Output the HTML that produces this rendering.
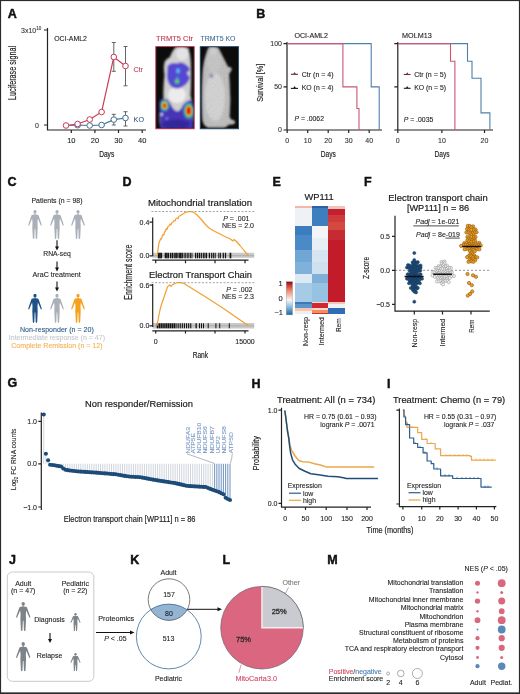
<!DOCTYPE html>
<html><head><meta charset="utf-8">
<style>
html,body{margin:0;padding:0;background:#fff;}
svg{display:block;font-family:"Liberation Sans",sans-serif;will-change:transform;}
.pl{font-weight:bold;font-size:12.5px;fill:#111;stroke:#111;stroke-width:0.45px;}
.t7{font-size:7px;fill:#333;}
.t6{font-size:6.5px;fill:#333;}
.ax{stroke:#222;stroke-width:1.2;fill:none;}
</style></head>
<body>
<svg width="520" height="694" viewBox="0 0 520 694">
<defs>
 <filter id="noise" x="0" y="0" width="100%" height="100%">
  <feTurbulence type="fractalNoise" baseFrequency="0.75" numOctaves="2" seed="4"/>
  <feColorMatrix type="matrix" values="0.33 0.33 0.33 0 0  0.33 0.33 0.33 0 0  0.33 0.33 0.33 0 0  0 0 0 0 1"/>
 </filter>
 <filter id="blur1" x="-10%" y="-10%" width="120%" height="120%"><feGaussianBlur stdDeviation="0.9"/></filter>
 <symbol id="person" viewBox="0 0 15 29.5" preserveAspectRatio="none">
  <ellipse cx="7.5" cy="2.05" rx="1.6" ry="1.95"/>
  <path d="M7,3.8 H8 V4.7 L10,5 Q10.9,5.2 11.2,6 L14,14.2 Q14.5,15.6 13.9,15.9 Q13.3,16.1 13,15 L10.4,8.8 L10,12.5 L10.2,17.5 L9.7,28.2 Q9.6,29.3 8.9,29.3 Q8.2,29.3 8.2,28.2 L7.8,19 H7.2 L6.8,28.2 Q6.8,29.3 6.1,29.3 Q5.4,29.3 5.3,28.2 L4.8,17.5 L5,12.5 L4.6,8.8 L2,15 Q1.7,16.1 1.1,15.9 Q0.5,15.6 1,14.2 L3.8,6 Q4.1,5.2 5,5 L7,4.7 Z"/>
 </symbol>
</defs>
<rect x="0.5" y="0.5" width="519" height="693" fill="#fff" stroke="#2a2a2a" stroke-width="1.2"/><rect x="0" y="692.4" width="520" height="1.6" fill="#2a2a2a"/>

<!-- ============ PANEL A ============ -->
<text class="pl" x="7.8" y="17.6">A</text>
<g id="panelA">
 <text x="21" y="33" style="font-size:7px;fill:#333;stroke:#333;stroke-width:0.1px">3x10<tspan dy="-3" style="font-size:4.5px">10</tspan></text>
 <text x="35" y="127.5" style="font-size:7px;fill:#333;stroke:#333;stroke-width:0.1px">0</text>
 <path class="ax" d="M47.5,28 V130 H146"/>
 <path class="ax" d="M44,30 H47.5 M44,125 H47.5 M71.3,130 V133 M94.9,130 V133 M118.5,130 V133 M142.2,130 V133"/>
 <g style="font-size:7.5px;fill:#222;stroke:#222;stroke-width:0.1px" text-anchor="middle">
  <text x="71.3" y="143.3">10</text><text x="94.9" y="143.3">20</text><text x="118.5" y="143.3">30</text><text x="142.2" y="143.3">40</text>
 </g>
 <text x="106.7" y="156.6" text-anchor="middle" style="font-size:9.5px;fill:#222;stroke:#222;stroke-width:0.18px" textLength="15" lengthAdjust="spacingAndGlyphs">Days</text>
 <text transform="translate(16.2,73) rotate(-90)" text-anchor="middle" style="font-size:10px;fill:#222;stroke:#222;stroke-width:0.18px" textLength="54" lengthAdjust="spacingAndGlyphs">Luciferase signal</text>
 <text x="54.2" y="40.6" style="font-size:6.7px;fill:#222;stroke:#222;stroke-width:0.1px" textLength="32.7" lengthAdjust="spacingAndGlyphs">OCI-AML2</text>
 <!-- error bars -->
 <g stroke="#555" stroke-width="0.9" fill="none">
  <path d="M113.8,42.5 V71.3 M111.8,42.5 H115.8 M111.8,71.3 H115.8"/>
  <path d="M125.5,46.5 V85.8 M123.5,46.5 H127.5 M123.5,85.8 H127.5"/>
  <path d="M113.8,114.3 V125 M111.8,114.3 H115.8 M111.8,125 H115.8"/>
  <path d="M125.5,111.7 V126 M123.5,111.7 H127.5 M123.5,126 H127.5"/>
 </g>
 <polyline points="66,125.5 77.6,125 89.7,125.5 101.6,125 113.8,119.6 125.5,118" fill="none" stroke="#3f6f95" stroke-width="1.2"/>
 <polyline points="66,125.5 77.6,124 89.7,119.5 101.6,112 113.8,57 125.5,66" fill="none" stroke="#cc3a58" stroke-width="1.2"/>
 <g fill="#fff" stroke="#3f6f95" stroke-width="1">
  <circle cx="77.6" cy="125.2" r="2.8"/><circle cx="89.7" cy="125.5" r="2.8"/><circle cx="101.6" cy="125" r="2.8"/><circle cx="113.8" cy="119.6" r="2.8"/><circle cx="125.5" cy="118" r="2.8"/>
 </g>
 <g fill="#fff" stroke="#cc3a58" stroke-width="1">
  <circle cx="66" cy="125.5" r="2.8"/><circle cx="77.6" cy="124" r="2.8"/><circle cx="89.7" cy="119.5" r="2.8"/><circle cx="101.6" cy="112" r="2.8"/><circle cx="113.8" cy="57" r="2.8"/><circle cx="125.5" cy="66" r="2.8"/>
 </g>
 <text x="133.4" y="71.9" style="font-size:7.2px;fill:#b8475e;stroke:#b8475e;stroke-width:0.1px">Ctr</text>
 <text x="133.6" y="122.4" style="font-size:7.2px;fill:#3d5f80;stroke:#3d5f80;stroke-width:0.1px">KO</text>
 <!-- mice -->
 <text x="156" y="40.5" style="font-size:6.6px;fill:#c23a55;stroke:#c23a55;stroke-width:0.1px" textLength="37" lengthAdjust="spacingAndGlyphs">TRMT5 Ctr</text>
 <text x="200.5" y="40.5" style="font-size:6.6px;fill:#3f6f95;stroke:#3f6f95;stroke-width:0.1px" textLength="35" lengthAdjust="spacingAndGlyphs">TRMT5 KO</text>
 <rect x="155.8" y="46.6" width="38.4" height="82.2" fill="#0c0c0c"/>
 <rect x="200.2" y="46.6" width="38.4" height="82.2" fill="#0c0c0c"/>
 <clipPath id="cpA1"><rect x="155.8" y="46.6" width="38.4" height="82.2"/></clipPath>
 <clipPath id="cpA2"><rect x="200.2" y="46.6" width="38.4" height="82.2"/></clipPath>
 <clipPath id="cpKO"><path d="M209,47 Q214,46 218.5,48 Q222,55 225.5,62 L228,67 Q232,66.5 231.5,70 Q230,72.5 229,74 L229.5,82 Q231,100 229.5,117 L231,119.5 Q235.5,120 235,123 Q233,125 229,124.5 Q227,127 223,127.5 L208,127.5 Q202.5,126 202.3,117 Q201.5,95 202.5,76 Q203,65 205,58 Q207,50 209,47 Z"/></clipPath>
 <g clip-path="url(#cpA2)" filter="url(#blur1)">
  <path d="M209,47 Q214,46 218.5,48 Q222,55 225.5,62 L228,67 Q232,66.5 231.5,70 Q230,72.5 229,74 L229.5,82 Q231,100 229.5,117 L231,119.5 Q235.5,120 235,123 Q233,125 229,124.5 Q227,127 223,127.5 L208,127.5 Q202.5,126 202.3,117 Q201.5,95 202.5,76 Q203,65 205,58 Q207,50 209,47 Z" fill="#bdbdbd"/>
  <ellipse cx="215" cy="97" rx="10" ry="24" fill="#d6d6d6"/>
  <ellipse cx="214" cy="62" rx="7" ry="11" fill="#c6c6c6"/>
  <ellipse cx="213.5" cy="51" rx="3.5" ry="4" fill="#d0d0d0"/>
  <circle cx="211.5" cy="76" r="1.8" fill="#4a6a9a"/>
 </g>
 <g clip-path="url(#cpKO)" opacity="0.22"><rect x="200" y="46" width="40" height="84" filter="url(#noise)"/></g>
 <g clip-path="url(#cpA1)">
  <g filter="url(#blur1)">
  <path d="M176,47 Q183,45.5 188.5,48 Q190.5,55 190.8,62 Q191.5,80 190.5,95 Q193,105 193.5,115 Q193.5,125 190,129 L162,129 Q159,125 159.5,115 Q160,105 163.5,98 Q163,88 164.5,75 Q163,66 165,61 Q168,58 170,57 Q172.5,50 176,47 Z" fill="#cfcfcf"/>
  <ellipse cx="182" cy="54" rx="6" ry="6.5" fill="#e4e4e4"/>
  <ellipse cx="177" cy="95" rx="9" ry="8" fill="#ececec"/>
  <path d="M167.5,66 Q171,62 177,63.5 Q181,61.5 185,64 Q189,66 190,70 L186.5,73 L190,77.5 Q188,84 182,87 Q177,90 172,87 Q167,83 167,76 Z" fill="#5646d2"/>
  <ellipse cx="178" cy="71" rx="1.7" ry="2.4" fill="#48c8f0"/>
  <ellipse cx="177.5" cy="78" rx="1" ry="1.5" fill="#6a9af0"/>
  <circle cx="177" cy="81.5" r="2.4" fill="#30c060"/>
  <circle cx="177" cy="81.5" r="1" fill="#a0f060"/>
  <path d="M159.5,101 Q163,97 168,100 Q171,104 172,107 Q175,111 177.5,111.5 Q181,110 183,105 Q186,101 191,100 L193,102 L193,129 L160.5,129 Q159,115 159.5,101 Z" fill="#4636b6"/>
  <ellipse cx="176" cy="124.5" rx="14" ry="5" fill="#35279a"/>
  <ellipse cx="164.6" cy="105.4" rx="4.6" ry="6" fill="#2a8ad0"/>
  <ellipse cx="164.6" cy="105.4" rx="3.5" ry="4.6" fill="#3cc050"/>
  <ellipse cx="164.6" cy="105.4" rx="2.6" ry="3.4" fill="#f0d020"/>
  <ellipse cx="164.6" cy="105.4" rx="1.9" ry="2.5" fill="#e01010"/>
  <ellipse cx="188.8" cy="110.8" rx="5.4" ry="8.3" fill="#2a90d0"/>
  <ellipse cx="188.8" cy="110.8" rx="4.3" ry="6.7" fill="#3cc050"/>
  <ellipse cx="188.8" cy="110.8" rx="3.3" ry="5.3" fill="#f0d020"/>
  <ellipse cx="188.8" cy="110.8" rx="2.5" ry="4.2" fill="#e01010"/>
  <circle cx="161.5" cy="114.5" r="1.4" fill="#d8d8f0"/>
  <circle cx="167" cy="118.5" r="1.1" fill="#7aa0f0"/>
  </g>
 </g>
 <rect x="155.8" y="46.6" width="38.4" height="82.2" fill="none" stroke="#c23a55" stroke-width="0.9"/>
 <rect x="200.2" y="46.6" width="38.4" height="82.2" fill="none" stroke="#2f4f6f" stroke-width="0.9"/>
</g>

<!-- ============ PANEL B ============ -->
<text class="pl" x="256.2" y="17.7">B</text>
<g id="panelB">
 <text transform="translate(263.1,82.8) rotate(-90)" text-anchor="middle" style="font-size:9.7px;fill:#222;stroke:#222;stroke-width:0.18px" textLength="38" lengthAdjust="spacingAndGlyphs">Survival [%]</text>
 <g style="font-size:7px;fill:#333;stroke:#333;stroke-width:0.1px" text-anchor="end">
  <text x="282" y="46">100</text><text x="282" y="89.3">50</text><text x="282" y="132.4">0</text>
 </g>
 <path class="ax" d="M287,42 V130 H382 M283.5,43.6 H287 M283.5,86.9 H287 M283.5,130 H287"/>
 <path class="ax" d="M287.2,130 V133 M307.7,130 V133 M328.2,130 V133 M348.7,130 V133 M369.2,130 V133"/>
 <g style="font-size:7px;fill:#333;stroke:#333;stroke-width:0.1px" text-anchor="middle">
  <text x="287.2" y="142.5">0</text><text x="307.7" y="142.5">10</text><text x="328.2" y="142.5">20</text><text x="348.7" y="142.5">30</text><text x="369.2" y="142.5">40</text>
 </g>
 <text x="328.3" y="156.9" text-anchor="middle" style="font-size:9.5px;fill:#222;stroke:#222;stroke-width:0.18px" textLength="15" lengthAdjust="spacingAndGlyphs">Days</text>
 <text x="294.4" y="37.6" style="font-size:7px;fill:#222;stroke:#222;stroke-width:0.1px" textLength="33.6" lengthAdjust="spacingAndGlyphs">OCI-AML2</text>
 <polyline points="287.5,43.6 371.2,43.6 371.2,86.9 379.2,86.9 379.2,130" fill="none" stroke="#4f7fae" stroke-width="1.1"/>
 <polyline points="287.5,43.6 342.9,43.6 342.9,86.9 356.9,86.9 356.9,108.5 359,108.5 359,130" fill="none" stroke="#cf5470" stroke-width="1.1"/>
 <path d="M290.9,74.3 H298" stroke="#6a2a40" stroke-width="1.1"/><path d="M293.4,74 L294.6,72 L295.8,74 Z" fill="#6a2a40"/>
 <path d="M290.9,88.4 H298" stroke="#1a1a2a" stroke-width="1.1"/><path d="M293.4,88.1 L294.6,86.1 L295.8,88.1 Z" fill="#1a1a2a"/>
 <text x="301.8" y="76.6" style="font-size:7px;fill:#222;stroke:#222;stroke-width:0.1px" textLength="31.8" lengthAdjust="spacingAndGlyphs">Ctr (n = 4)</text>
 <text x="301.8" y="90.4" style="font-size:7px;fill:#222;stroke:#222;stroke-width:0.1px" textLength="31.8" lengthAdjust="spacingAndGlyphs">KO (n = 4)</text>
 <text x="294.4" y="121.3" style="font-size:7px;fill:#222;stroke:#222;stroke-width:0.1px" textLength="29.6" lengthAdjust="spacingAndGlyphs"><tspan font-style="italic">P</tspan> = .0062</text>

 <g style="font-size:7px;fill:#333;stroke:#333;stroke-width:0.1px" text-anchor="end"></g>
 <path class="ax" d="M397.8,42 V130 H493 M394.3,43.6 H397.8 M394.3,86.9 H397.8 M394.3,130 H397.8"/>
 <path class="ax" d="M397.8,130 V133 M441.9,130 V133 M484.5,130 V133"/>
 <g style="font-size:7px;fill:#333;stroke:#333;stroke-width:0.1px" text-anchor="middle">
  <text x="397.8" y="142.5">0</text><text x="441.9" y="142.5">10</text><text x="484.5" y="142.5">20</text>
 </g>
 <text x="442" y="156.9" text-anchor="middle" style="font-size:9.5px;fill:#222;stroke:#222;stroke-width:0.18px" textLength="15" lengthAdjust="spacingAndGlyphs">Days</text>
 <text x="402" y="37.8" style="font-size:7.1px;fill:#222;stroke:#222;stroke-width:0.1px" textLength="29.7" lengthAdjust="spacingAndGlyphs">MOLM13</text>
 <polyline points="398,43.6 467.5,43.6 467.5,61.2 472,61.2 472,78.2 481,78.2 481,112.9 489.9,112.9 489.9,130" fill="none" stroke="#4f7fae" stroke-width="1.1"/>
 <polyline points="398,43.6 450.5,43.6 450.5,61.2 454.9,61.2 454.9,130" fill="none" stroke="#cf5470" stroke-width="1.1"/>
 <path d="M403.8,74.5 H410.6" stroke="#6a2a40" stroke-width="1.1"/><path d="M406,74.2 L407.2,72.2 L408.4,74.2 Z" fill="#6a2a40"/>
 <path d="M403.8,88.3 H410.6" stroke="#1a1a2a" stroke-width="1.1"/><path d="M406,88 L407.2,86 L408.4,88 Z" fill="#1a1a2a"/>
 <text x="414.2" y="76.6" style="font-size:7px;fill:#222;stroke:#222;stroke-width:0.1px" textLength="31.8" lengthAdjust="spacingAndGlyphs">Ctr (n = 5)</text>
 <text x="414.2" y="90.4" style="font-size:7px;fill:#222;stroke:#222;stroke-width:0.1px" textLength="31.8" lengthAdjust="spacingAndGlyphs">KO (n = 5)</text>
 <text x="403.7" y="122.2" style="font-size:7px;fill:#222;stroke:#222;stroke-width:0.1px" textLength="29.6" lengthAdjust="spacingAndGlyphs"><tspan font-style="italic">P</tspan> = .0035</text>
</g>

<!-- ============ PANEL C ============ -->
<text class="pl" x="7.5" y="186.4">C</text>
<g id="panelC">
 <text x="57" y="202.5" text-anchor="middle" style="font-size:7px;fill:#222;stroke:#222;stroke-width:0.1px" textLength="51" lengthAdjust="spacingAndGlyphs">Patients (n = 98)</text>
 <use href="#person" x="27.5" y="209.8" width="15" height="29.5" fill="#aab0b8"/>
 <use href="#person" x="49.5" y="209.8" width="15" height="29.5" fill="#aab0b8"/>
 <use href="#person" x="70.5" y="209.8" width="15" height="29.5" fill="#aab0b8"/>
 <g stroke="#111" stroke-width="1.1"><path d="M57,240.3 V247"/><path d="M57,261.5 V268"/><path d="M57,281.6 V288"/></g>
 <g fill="#111"><path d="M55,246.5 H59 L57,250.5 Z"/><path d="M55,267.5 H59 L57,271.5 Z"/><path d="M55,287.6 H59 L57,291.6 Z"/></g>
 <text x="57" y="256.3" text-anchor="middle" style="font-size:6.9px;fill:#222;stroke:#222;stroke-width:0.1px" textLength="27.5" lengthAdjust="spacingAndGlyphs">RNA-seq</text>
 <text x="56.7" y="276.8" text-anchor="middle" style="font-size:6.9px;fill:#222;stroke:#222;stroke-width:0.1px" textLength="48.2" lengthAdjust="spacingAndGlyphs">AraC treatment</text>
 <use href="#person" x="27.5" y="293.6" width="15" height="29.5" fill="#1d5286"/>
 <use href="#person" x="49.5" y="293.6" width="15" height="29.5" fill="#aab0b8"/>
 <use href="#person" x="70.5" y="293.6" width="15" height="29.5" fill="#f5a01e"/>
 <text x="56.9" y="331.8" text-anchor="middle" style="font-size:7px;fill:#2d5a88;stroke:#2d5a88;stroke-width:0.1px" textLength="73.8" lengthAdjust="spacingAndGlyphs">Non-responder (n = 20)</text>
 <text x="56.9" y="340.3" text-anchor="middle" style="font-size:7px;fill:#c4c8ce;stroke:#c4c8ce;stroke-width:0.1px" textLength="96.2" lengthAdjust="spacingAndGlyphs">Intermediate response (n = 47)</text>
 <text x="56.9" y="348.2" text-anchor="middle" style="font-size:7px;fill:#f4b050;stroke:#f4b050;stroke-width:0.1px" textLength="91.2" lengthAdjust="spacingAndGlyphs">Complete Remission (n = 12)</text>
</g>

<!-- ============ PANEL D ============ -->
<text class="pl" x="122.5" y="186.1">D</text>
<g id="panelD">
 <text x="200" y="206" text-anchor="middle" style="font-size:9.6px;fill:#1a1a1a;stroke:#1a1a1a;stroke-width:0.18px" textLength="104" lengthAdjust="spacingAndGlyphs">Mitochondrial translation</text>
 <text x="200.5" y="277.5" text-anchor="middle" style="font-size:9.6px;fill:#1a1a1a;stroke:#1a1a1a;stroke-width:0.18px" textLength="103" lengthAdjust="spacingAndGlyphs">Electron Transport Chain</text>
 <path d="M151.5,211.5 H255.4 M151.5,282.7 H255.4" stroke="#8a8a8a" stroke-width="0.8" stroke-dasharray="2,1.6"/>
 <rect x="152.7" y="252.7" width="101.5" height="5.1" fill="#c9c9c9"/>
 <rect x="152.7" y="323" width="101.5" height="5.5" fill="#c9c9c9"/>
 <path d="M152.7,255.7 H254.2 M152.7,325.8 H254.2" stroke="#9a9a9a" stroke-width="0.6"/>
 <g fill="#141414"><rect x="157.80" y="252.8" width="1.60" height="5.5"/><rect x="159.15" y="252.8" width="1.60" height="5.5"/><rect x="160.50" y="252.8" width="1.60" height="5.5"/><rect x="164.70" y="252.8" width="1.40" height="5.5"/><rect x="166.15" y="252.8" width="1.40" height="5.5"/><rect x="167.60" y="252.8" width="1.40" height="5.5"/><rect x="169.90" y="252.8" width="1.50" height="5.5"/><rect x="171.90" y="252.8" width="1.50" height="5.5"/><rect x="174.20" y="252.8" width="1.60" height="5.5"/><rect x="176.10" y="252.8" width="1.60" height="5.5"/><rect x="178.50" y="252.8" width="1.40" height="5.5"/><rect x="180.00" y="252.8" width="1.40" height="5.5"/><rect x="181.50" y="252.8" width="1.40" height="5.5"/><rect x="183.70" y="252.8" width="0.90" height="5.5"/><rect x="185.26" y="252.8" width="0.90" height="5.5"/><rect x="186.82" y="252.8" width="0.90" height="5.5"/><rect x="188.38" y="252.8" width="0.90" height="5.5"/><rect x="189.94" y="252.8" width="0.90" height="5.5"/><rect x="191.50" y="252.8" width="0.90" height="5.5"/><rect x="195.00" y="252.8" width="1.20" height="5.5"/><rect x="196.90" y="252.8" width="1.20" height="5.5"/><rect x="198.80" y="252.8" width="1.20" height="5.5"/><rect x="200.70" y="252.8" width="1.20" height="5.5"/><rect x="202.80" y="252.8" width="1.10" height="5.5"/><rect x="204.40" y="252.8" width="1.10" height="5.5"/><rect x="206.00" y="252.8" width="1.10" height="5.5"/><rect x="208.80" y="252.8" width="1.20" height="5.5"/><rect x="211.10" y="252.8" width="1.20" height="5.5"/><rect x="213.10" y="252.8" width="1.00" height="5.5"/><rect x="214.70" y="252.8" width="1.00" height="5.5"/><rect x="218.30" y="252.8" width="1.00" height="5.5"/><rect x="219.90" y="252.8" width="1.00" height="5.5"/><rect x="222.70" y="252.8" width="1.20" height="5.5"/><rect x="224.90" y="252.8" width="1.20" height="5.5"/><rect x="229.60" y="252.8" width="1.70" height="5.5"/></g>
 <g fill="#141414"><rect x="156.70" y="323.3" width="1.50" height="5.0"/><rect x="158.57" y="323.3" width="1.50" height="5.0"/><rect x="160.43" y="323.3" width="1.50" height="5.0"/><rect x="162.30" y="323.3" width="1.50" height="5.0"/><rect x="164.17" y="323.3" width="1.50" height="5.0"/><rect x="166.03" y="323.3" width="1.50" height="5.0"/><rect x="167.90" y="323.3" width="1.50" height="5.0"/><rect x="169.77" y="323.3" width="1.50" height="5.0"/><rect x="171.63" y="323.3" width="1.50" height="5.0"/><rect x="173.50" y="323.3" width="1.50" height="5.0"/><rect x="175.50" y="323.3" width="1.10" height="5.0"/><rect x="177.60" y="323.3" width="1.10" height="5.0"/><rect x="179.70" y="323.3" width="1.10" height="5.0"/><rect x="181.80" y="323.3" width="1.10" height="5.0"/><rect x="183.90" y="323.3" width="1.10" height="5.0"/><rect x="186.00" y="323.3" width="1.10" height="5.0"/><rect x="188.10" y="323.3" width="1.10" height="5.0"/><rect x="190.20" y="323.3" width="1.10" height="5.0"/><rect x="195.50" y="323.3" width="1.30" height="5.0"/><rect x="199.00" y="323.3" width="1.00" height="5.0"/><rect x="201.00" y="323.3" width="1.00" height="5.0"/><rect x="203.00" y="323.3" width="1.00" height="5.0"/><rect x="207.70" y="323.3" width="1.00" height="5.0"/><rect x="215.40" y="323.3" width="1.00" height="5.0"/><rect x="219.20" y="323.3" width="1.00" height="5.0"/><rect x="228.80" y="323.3" width="1.00" height="5.0"/></g>
 <path class="ax" d="M152.7,217.5 V256.3 M149.5,222.2 H152.7 M149.5,255.8 H152.7"/>
 <path class="ax" d="M152.7,284 V327 M152.3,330.8 H248.5 M149.5,285.2 H152.7 M149.5,325.8 H152.7"/>
 <path class="ax" d="M152.3,260.2 H248.5 M155.7,260.2 V263.3 M185.5,260.2 V263.3 M215,260.2 V263.3 M245,260.2 V263.3"/>
 <path class="ax" d="M155.7,330.8 V333.5 M185.5,330.8 V333.5 M215,330.8 V333.5 M245,330.8 V333.5"/>
 <g style="font-size:7px;fill:#222;stroke:#222;stroke-width:0.1px" text-anchor="end">
  <text x="149.3" y="224.6">0.4</text><text x="149.3" y="258.2">0.0</text>
  <text x="149.3" y="287.7">0.6</text><text x="149.3" y="328.3">0.0</text>
 </g>
 <g style="font-size:7px;fill:#222;stroke:#222;stroke-width:0.1px" text-anchor="middle"><text x="155.7" y="344">0</text><text x="245" y="344">15000</text></g>
 <text x="200.4" y="357.9" text-anchor="middle" style="font-size:9.3px;fill:#222;stroke:#222;stroke-width:0.18px" textLength="15.4" lengthAdjust="spacingAndGlyphs">Rank</text>
 <text transform="translate(132.3,272.2) rotate(-90)" text-anchor="middle" style="font-size:10px;fill:#222;stroke:#222;stroke-width:0.18px" textLength="55" lengthAdjust="spacingAndGlyphs">Enrichment score</text>
 <g style="font-size:7px;fill:#222;stroke:#222;stroke-width:0.1px" text-anchor="end">
  <text x="249.5" y="220.8"><tspan font-style="italic">P</tspan> = .001</text>
  <text x="254" y="228.3">NES = 2.0</text>
  <text x="252.5" y="291.8"><tspan font-style="italic">P</tspan> = .002</text>
  <text x="254" y="299.3">NES = 2.3</text>
 </g>
 <polyline points="157.3,255.7 158.2,248.0 159.0,243.0 160.0,240.5 160.8,238.5 161.5,239.0 162.2,236.0 163.0,234.5 163.8,235.0 164.5,232.0 165.5,231.0 166.3,228.5 167.0,229.3 168.0,226.5 169.0,226.0 170.0,224.0 171.0,224.8 172.0,222.5 173.0,222.0 174.0,220.5 175.0,221.0 176.0,218.5 177.0,218.0 178.0,218.6 179.0,216.3 180.5,215.5 182.0,214.5 183.5,213.8 185.0,212.6 186.5,212.2 188.5,211.6 191.0,211.6 193.0,212.0 196.0,214.0 200.0,218.0 205.0,224.0 209.0,228.0 214.0,231.0 220.0,234.0 226.0,237.0 230.0,238.8 233.0,241.0 234.0,239.5 236.0,241.0 240.0,245.5 244.0,250.5 248.5,255.7" fill="none" stroke="#f0a030" stroke-width="1.2" stroke-linejoin="round"/>
 <polyline points="157.0,325.8 158.0,320.0 159.0,315.0 160.0,310.0 161.0,306.0 162.0,303.0 163.0,300.0 164.0,297.5 165.0,294.0 166.0,291.0 167.0,288.5 167.7,286.5 168.5,286.0 169.5,285.0 170.3,285.5 171.0,286.5 172.0,285.0 173.0,284.5 174.0,284.0 175.0,283.5 176.0,283.0 177.0,282.7 180.0,282.7 182.7,282.8 186.0,284.8 190.0,287.2 196.0,290.9 205.0,296.6 215.0,302.9 225.0,309.5 235.0,316.5 242.0,321.3 248.5,325.8" fill="none" stroke="#f0a030" stroke-width="1.2" stroke-linejoin="round"/>
</g>

<!-- ============ PANEL E ============ -->
<text class="pl" x="272.6" y="186.4">E</text>
<g id="panelE">
 <text x="319.1" y="200.3" text-anchor="middle" style="font-size:9.3px;fill:#1a1a1a;stroke:#1a1a1a;stroke-width:0.18px" textLength="29.2" lengthAdjust="spacingAndGlyphs">WP111</text>
 <g shape-rendering="crispEdges"><rect x="295.2" y="206.0" width="16.5" height="1.6" fill="#f4b6a6"/><rect x="295.2" y="207.5" width="16.5" height="18.6" fill="#eef2f7"/><rect x="295.2" y="226.0" width="16.5" height="9.1" fill="#3b7cbf"/><rect x="295.2" y="235.0" width="16.5" height="15.1" fill="#4a8ac6"/><rect x="295.2" y="250.0" width="16.5" height="12.1" fill="#70a7d5"/><rect x="295.2" y="262.0" width="16.5" height="12.1" fill="#80b1da"/><rect x="295.2" y="274.0" width="16.5" height="9.1" fill="#dde9f4"/><rect x="295.2" y="283.0" width="16.5" height="18.7" fill="#a6cbe7"/><rect x="295.2" y="301.7" width="16.5" height="2.2" fill="#3a78b8"/><rect x="295.2" y="303.8" width="16.5" height="4.2" fill="#5a96cc"/><rect x="295.2" y="308.0" width="16.5" height="2.5" fill="#f8c6ae"/><rect x="295.2" y="310.5" width="16.5" height="1.6" fill="#f8eee8"/><rect x="295.2" y="312.0" width="16.5" height="2.4" fill="#eef0f8"/><rect x="311.6" y="206.0" width="16.4" height="2.0" fill="#2a63a8"/><rect x="311.6" y="208.0" width="16.4" height="18.1" fill="#3d7ebe"/><rect x="311.6" y="226.0" width="16.4" height="12.1" fill="#f3f5f8"/><rect x="311.6" y="238.0" width="16.4" height="12.1" fill="#e6eef6"/><rect x="311.6" y="250.0" width="16.4" height="12.1" fill="#d6e5f1"/><rect x="311.6" y="262.0" width="16.4" height="12.1" fill="#cfe0ef"/><rect x="311.6" y="274.0" width="16.4" height="9.1" fill="#80b0d8"/><rect x="311.6" y="283.0" width="16.4" height="18.7" fill="#96c3e2"/><rect x="311.6" y="301.7" width="16.4" height="1.4" fill="#f4dcd4"/><rect x="311.6" y="303.0" width="16.4" height="5.0" fill="#d02830"/><rect x="311.6" y="308.0" width="16.4" height="2.0" fill="#f8d8c8"/><rect x="311.6" y="310.0" width="16.4" height="2.5" fill="#f09060"/><rect x="311.6" y="312.5" width="16.4" height="1.9" fill="#d03030"/><rect x="328.0" y="206.0" width="16.6" height="2.6" fill="#f0c6bc"/><rect x="328.0" y="208.6" width="16.6" height="6.5" fill="#c42030"/><rect x="328.0" y="215.0" width="16.6" height="7.0" fill="#cf3a3a"/><rect x="328.0" y="222.0" width="16.6" height="8.1" fill="#d24a40"/><rect x="328.0" y="230.0" width="16.6" height="10.1" fill="#c62a32"/><rect x="328.0" y="240.0" width="16.6" height="61.7" fill="#c21c2b"/><rect x="328.0" y="301.7" width="16.6" height="2.4" fill="#f6c6b6"/><rect x="328.0" y="304.0" width="16.6" height="4.0" fill="#f2f3f6"/><rect x="328.0" y="308.0" width="16.6" height="6.4" fill="#2f6db5"/></g>
 <defs><linearGradient id="hmleg" x1="0" y1="0" x2="0" y2="1">
  <stop offset="0" stop-color="#7a0a12"/><stop offset="0.08" stop-color="#c0282e"/><stop offset="0.25" stop-color="#ee8060"/><stop offset="0.55" stop-color="#f7f7f7"/><stop offset="0.75" stop-color="#8cc0e0"/><stop offset="1" stop-color="#1f5fa8"/></linearGradient></defs>
 <rect x="286.2" y="281.7" width="6.4" height="33.2" fill="url(#hmleg)" stroke="#9a9a9a" stroke-width="0.4"/>
 <g style="font-size:7.5px;fill:#222;stroke:#222;stroke-width:0.1px" text-anchor="end">
  <text x="282.6" y="285.5">1</text><text x="282.6" y="301.1">0</text><text x="283" y="315.1">−1</text>
 </g>
 <g style="font-size:7.6px;fill:#222;stroke:#222;stroke-width:0.1px" text-anchor="end">
  <text transform="translate(307.8,317) rotate(-90)" textLength="29" lengthAdjust="spacingAndGlyphs">Non-resp</text>
  <text transform="translate(324.4,317) rotate(-90)" textLength="28.2" lengthAdjust="spacingAndGlyphs">Intermed</text>
  <text transform="translate(341,318.2) rotate(-90)" textLength="13.8" lengthAdjust="spacingAndGlyphs">Rem</text>
 </g>
</g>

<!-- ============ PANEL F ============ -->
<text class="pl" x="363.9" y="186">F</text>
<g id="panelF">
 <text x="438" y="200.6" text-anchor="middle" style="font-size:9.4px;fill:#1a1a1a;stroke:#1a1a1a;stroke-width:0.18px" textLength="99.3" lengthAdjust="spacingAndGlyphs">Electron transport chain</text>
 <text x="438" y="211" text-anchor="middle" style="font-size:9.2px;fill:#1a1a1a;stroke:#1a1a1a;stroke-width:0.18px">[WP111] n = 86</text>
 <path d="M395,270.3 H490" stroke="#777" stroke-width="0.8" stroke-dasharray="2.2,1.8"/>
 <path class="ax" d="M395,215.8 V311.2 H489.8 M392,236.4 H395 M392,270.3 H395 M392,304.3 H395 M414.3,311.2 V314.4 M442.5,311.2 V314.4 M471,311.2 V314.4"/>
 <g style="font-size:7px;fill:#222;stroke:#222;stroke-width:0.1px" text-anchor="end">
  <text x="390" y="238.9">0.5</text><text x="390" y="272.8">0.0</text><text x="390" y="306.6">−0.5</text>
 </g>
 <text transform="translate(369.2,267.9) rotate(-90)" text-anchor="middle" style="font-size:9.5px;fill:#222;stroke:#222;stroke-width:0.18px" textLength="22" lengthAdjust="spacingAndGlyphs">Z-score</text>
 <g style="font-size:7.6px;fill:#222;stroke:#222;stroke-width:0.1px" text-anchor="end">
  <text transform="translate(416.8,318.8) rotate(-90)" textLength="28.6" lengthAdjust="spacingAndGlyphs">Non-resp</text>
  <text transform="translate(445,318.8) rotate(-90)" textLength="27.7" lengthAdjust="spacingAndGlyphs">Intermed</text>
  <text transform="translate(473.5,319.7) rotate(-90)" textLength="13" lengthAdjust="spacingAndGlyphs">Rem</text>
 </g>
 <g fill="#1f4e79" stroke="#15375a" stroke-width="0.5"><circle cx="414.30" cy="253.00" r="1.55"/><circle cx="414.30" cy="260.00" r="1.55"/><circle cx="417.80" cy="262.16" r="1.55"/><circle cx="412.55" cy="262.35" r="1.55"/><circle cx="416.05" cy="262.39" r="1.55"/><circle cx="414.30" cy="262.97" r="1.55"/><circle cx="416.05" cy="264.22" r="1.55"/><circle cx="413.25" cy="264.40" r="1.55"/><circle cx="408.00" cy="265.06" r="1.55"/><circle cx="420.60" cy="265.43" r="1.55"/><circle cx="409.75" cy="265.51" r="1.55"/><circle cx="414.65" cy="265.60" r="1.55"/><circle cx="418.85" cy="266.06" r="1.55"/><circle cx="411.50" cy="266.43" r="1.55"/><circle cx="417.10" cy="266.63" r="1.55"/><circle cx="413.25" cy="266.75" r="1.55"/><circle cx="415.35" cy="267.28" r="1.55"/><circle cx="406.95" cy="267.46" r="1.55"/><circle cx="420.60" cy="267.65" r="1.55"/><circle cx="408.70" cy="267.85" r="1.55"/><circle cx="418.85" cy="268.17" r="1.55"/><circle cx="413.95" cy="268.36" r="1.55"/><circle cx="410.45" cy="268.49" r="1.55"/><circle cx="417.10" cy="268.49" r="1.55"/><circle cx="412.20" cy="269.20" r="1.55"/><circle cx="415.35" cy="269.48" r="1.55"/><circle cx="413.60" cy="270.35" r="1.55"/><circle cx="420.25" cy="270.60" r="1.55"/><circle cx="409.75" cy="270.99" r="1.55"/><circle cx="418.50" cy="271.09" r="1.55"/><circle cx="416.75" cy="271.11" r="1.55"/><circle cx="411.50" cy="271.63" r="1.55"/><circle cx="415.00" cy="271.64" r="1.55"/><circle cx="413.25" cy="272.28" r="1.55"/><circle cx="416.40" cy="273.11" r="1.55"/><circle cx="414.65" cy="273.43" r="1.55"/><circle cx="407.65" cy="274.18" r="1.55"/><circle cx="420.60" cy="274.26" r="1.55"/><circle cx="412.90" cy="274.28" r="1.55"/><circle cx="409.40" cy="274.36" r="1.55"/><circle cx="418.85" cy="274.72" r="1.55"/><circle cx="411.15" cy="274.81" r="1.55"/><circle cx="416.05" cy="275.06" r="1.55"/><circle cx="414.30" cy="275.58" r="1.55"/><circle cx="412.55" cy="276.02" r="1.55"/><circle cx="417.45" cy="276.11" r="1.55"/><circle cx="409.75" cy="276.20" r="1.55"/><circle cx="415.70" cy="276.80" r="1.55"/><circle cx="413.95" cy="277.33" r="1.55"/><circle cx="411.50" cy="277.48" r="1.55"/><circle cx="418.50" cy="277.57" r="1.55"/><circle cx="408.70" cy="277.68" r="1.55"/><circle cx="420.25" cy="278.00" r="1.55"/><circle cx="416.40" cy="278.42" r="1.55"/><circle cx="406.95" cy="278.63" r="1.55"/><circle cx="422.00" cy="278.68" r="1.55"/><circle cx="412.90" cy="278.75" r="1.55"/><circle cx="414.65" cy="279.12" r="1.55"/><circle cx="411.15" cy="279.51" r="1.55"/><circle cx="417.45" cy="279.85" r="1.55"/><circle cx="419.20" cy="280.18" r="1.55"/><circle cx="409.40" cy="280.45" r="1.55"/><circle cx="413.60" cy="280.55" r="1.55"/><circle cx="415.70" cy="280.67" r="1.55"/><circle cx="411.85" cy="281.25" r="1.55"/><circle cx="414.30" cy="282.23" r="1.55"/><circle cx="416.40" cy="282.27" r="1.55"/><circle cx="418.15" cy="282.43" r="1.55"/><circle cx="410.80" cy="282.79" r="1.55"/><circle cx="412.55" cy="282.98" r="1.55"/><circle cx="409.05" cy="283.28" r="1.55"/><circle cx="419.90" cy="283.31" r="1.55"/><circle cx="414.30" cy="284.01" r="1.55"/><circle cx="416.05" cy="284.19" r="1.55"/><circle cx="412.55" cy="285.04" r="1.55"/><circle cx="414.30" cy="286.52" r="1.55"/><circle cx="416.05" cy="286.95" r="1.55"/><circle cx="412.55" cy="287.22" r="1.55"/><circle cx="417.80" cy="287.91" r="1.55"/><circle cx="410.80" cy="287.98" r="1.55"/><circle cx="414.30" cy="288.78" r="1.55"/><circle cx="416.05" cy="289.29" r="1.55"/><circle cx="412.90" cy="290.00" r="1.55"/><circle cx="414.30" cy="291.62" r="1.55"/><circle cx="416.05" cy="292.39" r="1.55"/><circle cx="414.30" cy="301.70" r="1.55"/></g><g fill="#f4f4f4" stroke="#8a8a8a" stroke-width="0.5"><circle cx="444.60" cy="261.33" r="1.50"/><circle cx="441.45" cy="261.94" r="1.50"/><circle cx="443.20" cy="262.35" r="1.50"/><circle cx="444.60" cy="263.34" r="1.50"/><circle cx="441.80" cy="263.61" r="1.50"/><circle cx="443.20" cy="264.65" r="1.50"/><circle cx="447.05" cy="265.57" r="1.50"/><circle cx="438.65" cy="265.99" r="1.50"/><circle cx="442.15" cy="266.04" r="1.50"/><circle cx="445.30" cy="266.45" r="1.50"/><circle cx="440.40" cy="266.55" r="1.50"/><circle cx="443.55" cy="267.29" r="1.50"/><circle cx="441.80" cy="267.73" r="1.50"/><circle cx="450.90" cy="267.77" r="1.50"/><circle cx="435.50" cy="267.85" r="1.50"/><circle cx="449.15" cy="267.87" r="1.50"/><circle cx="437.25" cy="267.89" r="1.50"/><circle cx="447.40" cy="267.91" r="1.50"/><circle cx="439.00" cy="268.17" r="1.50"/><circle cx="446.00" cy="268.89" r="1.50"/><circle cx="444.25" cy="269.00" r="1.50"/><circle cx="440.75" cy="269.07" r="1.50"/><circle cx="442.50" cy="269.35" r="1.50"/><circle cx="436.20" cy="270.42" r="1.50"/><circle cx="444.60" cy="270.70" r="1.50"/><circle cx="448.80" cy="270.91" r="1.50"/><circle cx="437.95" cy="271.05" r="1.50"/><circle cx="447.05" cy="271.17" r="1.50"/><circle cx="439.70" cy="271.24" r="1.50"/><circle cx="441.45" cy="271.43" r="1.50"/><circle cx="443.20" cy="271.82" r="1.50"/><circle cx="433.05" cy="272.16" r="1.50"/><circle cx="445.65" cy="272.24" r="1.50"/><circle cx="451.95" cy="272.41" r="1.50"/><circle cx="436.55" cy="272.42" r="1.50"/><circle cx="434.80" cy="272.59" r="1.50"/><circle cx="450.20" cy="272.74" r="1.50"/><circle cx="447.40" cy="272.94" r="1.50"/><circle cx="439.00" cy="272.96" r="1.50"/><circle cx="444.25" cy="273.34" r="1.50"/><circle cx="442.50" cy="273.45" r="1.50"/><circle cx="440.75" cy="273.76" r="1.50"/><circle cx="446.00" cy="273.92" r="1.50"/><circle cx="437.60" cy="273.96" r="1.50"/><circle cx="448.80" cy="274.00" r="1.50"/><circle cx="435.85" cy="274.04" r="1.50"/><circle cx="450.55" cy="274.43" r="1.50"/><circle cx="439.35" cy="274.82" r="1.50"/><circle cx="443.55" cy="274.89" r="1.50"/><circle cx="434.10" cy="274.94" r="1.50"/><circle cx="447.40" cy="275.05" r="1.50"/><circle cx="441.80" cy="275.10" r="1.50"/><circle cx="452.30" cy="275.22" r="1.50"/><circle cx="432.35" cy="275.38" r="1.50"/><circle cx="445.30" cy="275.50" r="1.50"/><circle cx="437.95" cy="275.81" r="1.50"/><circle cx="436.20" cy="275.99" r="1.50"/><circle cx="449.15" cy="275.99" r="1.50"/><circle cx="454.05" cy="276.06" r="1.50"/><circle cx="442.85" cy="276.45" r="1.50"/><circle cx="440.75" cy="276.48" r="1.50"/><circle cx="450.90" cy="276.60" r="1.50"/><circle cx="446.70" cy="276.67" r="1.50"/><circle cx="434.80" cy="276.99" r="1.50"/><circle cx="444.60" cy="277.13" r="1.50"/><circle cx="439.35" cy="277.60" r="1.50"/><circle cx="441.80" cy="277.93" r="1.50"/><circle cx="437.60" cy="277.95" r="1.50"/><circle cx="448.10" cy="277.98" r="1.50"/><circle cx="449.85" cy="278.01" r="1.50"/><circle cx="443.20" cy="279.12" r="1.50"/><circle cx="440.40" cy="279.19" r="1.50"/><circle cx="444.95" cy="279.19" r="1.50"/><circle cx="446.70" cy="279.25" r="1.50"/><circle cx="438.65" cy="279.57" r="1.50"/><circle cx="442.15" cy="280.47" r="1.50"/><circle cx="443.90" cy="280.69" r="1.50"/><circle cx="445.65" cy="280.77" r="1.50"/><circle cx="440.40" cy="280.95" r="1.50"/><circle cx="447.40" cy="281.07" r="1.50"/><circle cx="438.65" cy="281.35" r="1.50"/><circle cx="436.90" cy="281.50" r="1.50"/><circle cx="442.85" cy="282.07" r="1.50"/><circle cx="448.80" cy="282.15" r="1.50"/><circle cx="441.80" cy="283.41" r="1.50"/><circle cx="443.20" cy="284.47" r="1.50"/></g><g fill="#f0a020" stroke="#8a5610" stroke-width="0.6"><circle cx="467.80" cy="225.87" r="1.65"/><circle cx="469.90" cy="226.05" r="1.65"/><circle cx="473.05" cy="226.42" r="1.65"/><circle cx="471.30" cy="227.50" r="1.65"/><circle cx="467.10" cy="228.99" r="1.65"/><circle cx="475.50" cy="229.52" r="1.65"/><circle cx="469.20" cy="229.67" r="1.65"/><circle cx="473.40" cy="229.82" r="1.65"/><circle cx="471.30" cy="229.92" r="1.65"/><circle cx="476.55" cy="232.28" r="1.65"/><circle cx="466.40" cy="232.38" r="1.65"/><circle cx="474.45" cy="232.51" r="1.65"/><circle cx="468.50" cy="232.64" r="1.65"/><circle cx="472.35" cy="232.91" r="1.65"/><circle cx="470.25" cy="233.64" r="1.65"/><circle cx="473.40" cy="234.52" r="1.65"/><circle cx="471.30" cy="235.23" r="1.65"/><circle cx="467.45" cy="236.84" r="1.65"/><circle cx="475.50" cy="237.00" r="1.65"/><circle cx="473.40" cy="237.05" r="1.65"/><circle cx="471.30" cy="237.24" r="1.65"/><circle cx="468.50" cy="238.50" r="1.65"/><circle cx="473.75" cy="239.26" r="1.65"/><circle cx="470.25" cy="239.49" r="1.65"/><circle cx="467.45" cy="240.22" r="1.65"/><circle cx="472.00" cy="240.30" r="1.65"/><circle cx="475.15" cy="240.72" r="1.65"/><circle cx="469.20" cy="241.48" r="1.65"/><circle cx="473.40" cy="241.60" r="1.65"/><circle cx="471.30" cy="242.11" r="1.65"/><circle cx="479.35" cy="242.98" r="1.65"/><circle cx="464.30" cy="243.11" r="1.65"/><circle cx="466.40" cy="243.23" r="1.65"/><circle cx="477.25" cy="243.66" r="1.65"/><circle cx="469.20" cy="244.12" r="1.65"/><circle cx="471.30" cy="244.40" r="1.65"/><circle cx="473.40" cy="244.48" r="1.65"/><circle cx="475.50" cy="244.61" r="1.65"/><circle cx="467.45" cy="244.87" r="1.65"/><circle cx="465.35" cy="244.92" r="1.65"/><circle cx="478.65" cy="245.15" r="1.65"/><circle cx="463.25" cy="245.36" r="1.65"/><circle cx="480.75" cy="245.47" r="1.65"/><circle cx="461.15" cy="245.89" r="1.65"/><circle cx="469.90" cy="245.98" r="1.65"/><circle cx="476.90" cy="246.01" r="1.65"/><circle cx="472.00" cy="246.28" r="1.65"/><circle cx="474.10" cy="246.39" r="1.65"/><circle cx="468.15" cy="246.77" r="1.65"/><circle cx="470.60" cy="247.78" r="1.65"/><circle cx="473.05" cy="248.00" r="1.65"/><circle cx="475.15" cy="248.48" r="1.65"/><circle cx="468.85" cy="248.55" r="1.65"/><circle cx="466.75" cy="248.87" r="1.65"/><circle cx="477.25" cy="248.92" r="1.65"/><circle cx="464.65" cy="249.28" r="1.65"/><circle cx="479.35" cy="249.35" r="1.65"/><circle cx="471.30" cy="249.71" r="1.65"/><circle cx="473.40" cy="249.94" r="1.65"/><circle cx="469.90" cy="251.11" r="1.65"/><circle cx="474.80" cy="251.26" r="1.65"/><circle cx="471.30" cy="252.77" r="1.65"/><circle cx="472.35" cy="254.42" r="1.65"/><circle cx="470.25" cy="254.61" r="1.65"/><circle cx="474.10" cy="255.44" r="1.65"/><circle cx="468.85" cy="256.00" r="1.65"/><circle cx="471.30" cy="256.40" r="1.65"/><circle cx="475.15" cy="257.06" r="1.65"/><circle cx="467.10" cy="257.12" r="1.65"/><circle cx="473.05" cy="257.33" r="1.65"/><circle cx="477.25" cy="257.36" r="1.65"/><circle cx="471.30" cy="259.22" r="1.65"/><circle cx="473.40" cy="259.22" r="1.65"/><circle cx="469.55" cy="260.09" r="1.65"/><circle cx="475.15" cy="260.16" r="1.65"/><circle cx="471.30" cy="261.36" r="1.65"/><circle cx="473.40" cy="261.80" r="1.65"/><circle cx="468.50" cy="261.84" r="1.65"/></g><path d="M404.6,276.5 H423.6 M433.4,274.2 H451.9 M462.3,246.6 H481.1" stroke="#111" stroke-width="1.5"/><g fill="#f0a020" stroke="#8a5610" stroke-width="0.6"><circle cx="467.5" cy="274.0" r="1.65"/><circle cx="473.0" cy="275.3" r="1.65"/><circle cx="476.0" cy="276.8" r="1.65"/><circle cx="469.0" cy="283.0" r="1.65"/><circle cx="471.8" cy="285.2" r="1.65"/><circle cx="472.2" cy="291.5" r="1.65"/><circle cx="470.0" cy="294.0" r="1.65"/><circle cx="467.8" cy="295.6" r="1.65"/></g>
 <g style="font-size:7px;fill:#222;stroke:#222;stroke-width:0.1px" text-anchor="middle">
  <text x="437.5" y="224"><tspan font-style="italic">Padj</tspan> = 1e-021</text>
  <text x="438" y="237.4"><tspan font-style="italic">Padj</tspan> = 8e-019</text>
 </g>
 <path d="M413.3,225.9 H458.8 M445.4,238.1 H459.8" stroke="#222" stroke-width="0.8"/>
</g>

<!-- ============ PANEL G ============ -->
<text class="pl" x="7.5" y="387.2">G</text>
<g id="panelG">
 <text x="139" y="406.8" text-anchor="middle" style="font-size:9.4px;fill:#1a1a1a;stroke:#1a1a1a;stroke-width:0.18px" textLength="108" lengthAdjust="spacingAndGlyphs">Non responder/Remission</text>
 <path d="M43.75,463.75 V414.50" stroke="#bcc3ce" stroke-width="0.7"/><path d="M45.90,463.75 V453.70" stroke="#bcc3ce" stroke-width="0.7"/><path d="M48.10,463.75 V460.20" stroke="#bcc3ce" stroke-width="0.7"/><path d="M50.10,463.75 V464.80" stroke="#bcc3ce" stroke-width="0.7"/><path d="M52.29,463.75 V465.06" stroke="#bcc3ce" stroke-width="0.7"/><path d="M54.49,463.75 V465.32" stroke="#bcc3ce" stroke-width="0.7"/><path d="M56.68,463.75 V465.69" stroke="#bcc3ce" stroke-width="0.7"/><path d="M58.88,463.75 V466.12" stroke="#bcc3ce" stroke-width="0.7"/><path d="M61.07,463.75 V466.55" stroke="#bcc3ce" stroke-width="0.7"/><path d="M63.26,463.75 V468.50" stroke="#bcc3ce" stroke-width="0.7"/><path d="M65.46,463.75 V469.72" stroke="#bcc3ce" stroke-width="0.7"/><path d="M67.65,463.75 V470.15" stroke="#bcc3ce" stroke-width="0.7"/><path d="M69.85,463.75 V470.57" stroke="#bcc3ce" stroke-width="0.7"/><path d="M72.04,463.75 V470.80" stroke="#bcc3ce" stroke-width="0.7"/><path d="M74.23,463.75 V471.01" stroke="#bcc3ce" stroke-width="0.7"/><path d="M76.43,463.75 V471.22" stroke="#bcc3ce" stroke-width="0.7"/><path d="M78.62,463.75 V471.43" stroke="#bcc3ce" stroke-width="0.7"/><path d="M80.81,463.75 V471.60" stroke="#bcc3ce" stroke-width="0.7"/><path d="M83.01,463.75 V471.75" stroke="#bcc3ce" stroke-width="0.7"/><path d="M85.20,463.75 V471.89" stroke="#bcc3ce" stroke-width="0.7"/><path d="M87.40,463.75 V472.04" stroke="#bcc3ce" stroke-width="0.7"/><path d="M89.59,463.75 V472.19" stroke="#bcc3ce" stroke-width="0.7"/><path d="M91.78,463.75 V472.34" stroke="#bcc3ce" stroke-width="0.7"/><path d="M93.98,463.75 V472.49" stroke="#bcc3ce" stroke-width="0.7"/><path d="M96.17,463.75 V472.65" stroke="#bcc3ce" stroke-width="0.7"/><path d="M98.37,463.75 V472.83" stroke="#bcc3ce" stroke-width="0.7"/><path d="M100.56,463.75 V473.02" stroke="#bcc3ce" stroke-width="0.7"/><path d="M102.75,463.75 V473.20" stroke="#bcc3ce" stroke-width="0.7"/><path d="M104.95,463.75 V473.39" stroke="#bcc3ce" stroke-width="0.7"/><path d="M107.14,463.75 V473.57" stroke="#bcc3ce" stroke-width="0.7"/><path d="M109.34,463.75 V473.76" stroke="#bcc3ce" stroke-width="0.7"/><path d="M111.53,463.75 V473.94" stroke="#bcc3ce" stroke-width="0.7"/><path d="M113.72,463.75 V474.13" stroke="#bcc3ce" stroke-width="0.7"/><path d="M115.92,463.75 V474.32" stroke="#bcc3ce" stroke-width="0.7"/><path d="M118.11,463.75 V474.72" stroke="#bcc3ce" stroke-width="0.7"/><path d="M120.30,463.75 V475.11" stroke="#bcc3ce" stroke-width="0.7"/><path d="M122.50,463.75 V475.51" stroke="#bcc3ce" stroke-width="0.7"/><path d="M124.69,463.75 V475.90" stroke="#bcc3ce" stroke-width="0.7"/><path d="M126.89,463.75 V476.30" stroke="#bcc3ce" stroke-width="0.7"/><path d="M129.08,463.75 V476.56" stroke="#bcc3ce" stroke-width="0.7"/><path d="M131.27,463.75 V476.69" stroke="#bcc3ce" stroke-width="0.7"/><path d="M133.47,463.75 V476.82" stroke="#bcc3ce" stroke-width="0.7"/><path d="M135.66,463.75 V476.95" stroke="#bcc3ce" stroke-width="0.7"/><path d="M137.86,463.75 V477.07" stroke="#bcc3ce" stroke-width="0.7"/><path d="M140.05,463.75 V477.21" stroke="#bcc3ce" stroke-width="0.7"/><path d="M142.24,463.75 V477.61" stroke="#bcc3ce" stroke-width="0.7"/><path d="M144.44,463.75 V478.02" stroke="#bcc3ce" stroke-width="0.7"/><path d="M146.63,463.75 V478.42" stroke="#bcc3ce" stroke-width="0.7"/><path d="M148.83,463.75 V478.83" stroke="#bcc3ce" stroke-width="0.7"/><path d="M151.02,463.75 V479.23" stroke="#bcc3ce" stroke-width="0.7"/><path d="M153.21,463.75 V479.63" stroke="#bcc3ce" stroke-width="0.7"/><path d="M155.41,463.75 V480.03" stroke="#bcc3ce" stroke-width="0.7"/><path d="M157.60,463.75 V480.38" stroke="#bcc3ce" stroke-width="0.7"/><path d="M159.80,463.75 V480.73" stroke="#bcc3ce" stroke-width="0.7"/><path d="M161.99,463.75 V481.08" stroke="#bcc3ce" stroke-width="0.7"/><path d="M164.18,463.75 V481.42" stroke="#bcc3ce" stroke-width="0.7"/><path d="M166.38,463.75 V481.77" stroke="#bcc3ce" stroke-width="0.7"/><path d="M168.57,463.75 V482.12" stroke="#bcc3ce" stroke-width="0.7"/><path d="M170.76,463.75 V482.47" stroke="#bcc3ce" stroke-width="0.7"/><path d="M172.96,463.75 V482.81" stroke="#bcc3ce" stroke-width="0.7"/><path d="M175.15,463.75 V483.16" stroke="#bcc3ce" stroke-width="0.7"/><path d="M177.35,463.75 V483.65" stroke="#bcc3ce" stroke-width="0.7"/><path d="M179.54,463.75 V484.16" stroke="#bcc3ce" stroke-width="0.7"/><path d="M181.73,463.75 V484.67" stroke="#bcc3ce" stroke-width="0.7"/><path d="M183.93,463.75 V485.17" stroke="#bcc3ce" stroke-width="0.7"/><path d="M186.12,463.75 V485.68" stroke="#bcc3ce" stroke-width="0.7"/><path d="M188.32,463.75 V486.04" stroke="#bcc3ce" stroke-width="0.7"/><path d="M190.51,463.75 V486.17" stroke="#bcc3ce" stroke-width="0.7"/><path d="M192.70,463.75 V486.29" stroke="#bcc3ce" stroke-width="0.7"/><path d="M194.90,463.75 V486.41" stroke="#bcc3ce" stroke-width="0.7"/><path d="M197.09,463.75 V486.53" stroke="#bcc3ce" stroke-width="0.7"/><path d="M199.29,463.75 V486.65" stroke="#bcc3ce" stroke-width="0.7"/><path d="M201.48,463.75 V486.77" stroke="#bcc3ce" stroke-width="0.7"/><path d="M203.67,463.75 V486.89" stroke="#bcc3ce" stroke-width="0.7"/><path d="M205.87,463.75 V487.07" stroke="#bcc3ce" stroke-width="0.7"/><path d="M208.06,463.75 V487.98" stroke="#bcc3ce" stroke-width="0.7"/><path d="M210.25,463.75 V488.90" stroke="#bcc3ce" stroke-width="0.7"/><path d="M212.45,463.75 V489.75" stroke="#bcc3ce" stroke-width="0.7"/><path d="M214.64,463.75 V490.46" stroke="#5f86b8" stroke-width="0.9"/><path d="M216.84,463.75 V491.18" stroke="#5f86b8" stroke-width="0.9"/><path d="M219.03,463.75 V492.11" stroke="#5f86b8" stroke-width="0.9"/><path d="M221.22,463.75 V493.18" stroke="#5f86b8" stroke-width="0.9"/><path d="M223.42,463.75 V494.26" stroke="#5f86b8" stroke-width="0.9"/><path d="M225.61,463.75 V497.76" stroke="#5f86b8" stroke-width="0.9"/><path d="M227.81,463.75 V498.95" stroke="#5f86b8" stroke-width="0.9"/><path d="M230.00,463.75 V500.00" stroke="#5f86b8" stroke-width="0.9"/>
 <text transform="translate(190.00,453.6) rotate(-90)" style="font-size:5.7px;fill:#7d9cc6;stroke:#7d9cc6;stroke-width:0.1px" textLength="26.5" lengthAdjust="spacingAndGlyphs">NDUFA3</text><text transform="translate(195.30,453.6) rotate(-90)" style="font-size:5.7px;fill:#7d9cc6;stroke:#7d9cc6;stroke-width:0.1px" textLength="20.5" lengthAdjust="spacingAndGlyphs">ATP5E</text><text transform="translate(201.30,453.6) rotate(-90)" style="font-size:5.7px;fill:#7d9cc6;stroke:#7d9cc6;stroke-width:0.1px" textLength="31.0" lengthAdjust="spacingAndGlyphs">NDUFB10</text><text transform="translate(207.40,453.6) rotate(-90)" style="font-size:5.7px;fill:#7d9cc6;stroke:#7d9cc6;stroke-width:0.1px" textLength="27.5" lengthAdjust="spacingAndGlyphs">NDUFS6</text><text transform="translate(213.50,453.6) rotate(-90)" style="font-size:5.7px;fill:#7d9cc6;stroke:#7d9cc6;stroke-width:0.1px" textLength="27.5" lengthAdjust="spacingAndGlyphs">NDUFB7</text><text transform="translate(219.50,453.6) rotate(-90)" style="font-size:5.7px;fill:#7d9cc6;stroke:#7d9cc6;stroke-width:0.1px" textLength="17.5" lengthAdjust="spacingAndGlyphs">UCP2</text><text transform="translate(226.00,453.6) rotate(-90)" style="font-size:5.7px;fill:#7d9cc6;stroke:#7d9cc6;stroke-width:0.1px" textLength="27.5" lengthAdjust="spacingAndGlyphs">NDUFS8</text><text transform="translate(232.50,453.6) rotate(-90)" style="font-size:5.7px;fill:#7d9cc6;stroke:#7d9cc6;stroke-width:0.1px" textLength="21.5" lengthAdjust="spacingAndGlyphs">ATP5D</text><path d="M186.9,453.8 L214.6,463.5 M232.2,453.8 Q232.4,457 230.3,463.5" stroke="#6a6f78" stroke-width="0.5" fill="none"/>
 <path class="ax" d="M41.3,412.5 V510 M38.3,421.3 H41.3 M38.3,463.8 H41.3 M38.3,507 H41.3"/>
 <g style="font-size:7px;fill:#222;stroke:#222;stroke-width:0.1px" text-anchor="end">
  <text x="37" y="423.8">1.0</text><text x="37" y="466.3">0.0</text><text x="37" y="509.5">−1.0</text>
 </g>
 <text transform="translate(15.8,459.5) rotate(-90)" text-anchor="middle" style="font-size:7.6px;fill:#222;stroke:#222;stroke-width:0.1px" textLength="61.7" lengthAdjust="spacingAndGlyphs">Log<tspan dy="1.8" style="font-size:5px">2</tspan><tspan dy="-1.8"> FC RNA counts</tspan></text>
 <g fill="#1c4b78"><circle cx="43.75" cy="414.50" r="2.05"/><circle cx="45.90" cy="453.70" r="2.05"/><circle cx="48.10" cy="460.20" r="2.05"/><circle cx="50.10" cy="464.80" r="2.05"/><circle cx="52.29" cy="465.06" r="2.05"/><circle cx="54.49" cy="465.32" r="2.05"/><circle cx="56.68" cy="465.69" r="2.05"/><circle cx="58.88" cy="466.12" r="2.05"/><circle cx="61.07" cy="466.55" r="2.05"/><circle cx="63.26" cy="468.50" r="2.05"/><circle cx="65.46" cy="469.72" r="2.05"/><circle cx="67.65" cy="470.15" r="2.05"/><circle cx="69.85" cy="470.57" r="2.05"/><circle cx="72.04" cy="470.80" r="2.05"/><circle cx="74.23" cy="471.01" r="2.05"/><circle cx="76.43" cy="471.22" r="2.05"/><circle cx="78.62" cy="471.43" r="2.05"/><circle cx="80.81" cy="471.60" r="2.05"/><circle cx="83.01" cy="471.75" r="2.05"/><circle cx="85.20" cy="471.89" r="2.05"/><circle cx="87.40" cy="472.04" r="2.05"/><circle cx="89.59" cy="472.19" r="2.05"/><circle cx="91.78" cy="472.34" r="2.05"/><circle cx="93.98" cy="472.49" r="2.05"/><circle cx="96.17" cy="472.65" r="2.05"/><circle cx="98.37" cy="472.83" r="2.05"/><circle cx="100.56" cy="473.02" r="2.05"/><circle cx="102.75" cy="473.20" r="2.05"/><circle cx="104.95" cy="473.39" r="2.05"/><circle cx="107.14" cy="473.57" r="2.05"/><circle cx="109.34" cy="473.76" r="2.05"/><circle cx="111.53" cy="473.94" r="2.05"/><circle cx="113.72" cy="474.13" r="2.05"/><circle cx="115.92" cy="474.32" r="2.05"/><circle cx="118.11" cy="474.72" r="2.05"/><circle cx="120.30" cy="475.11" r="2.05"/><circle cx="122.50" cy="475.51" r="2.05"/><circle cx="124.69" cy="475.90" r="2.05"/><circle cx="126.89" cy="476.30" r="2.05"/><circle cx="129.08" cy="476.56" r="2.05"/><circle cx="131.27" cy="476.69" r="2.05"/><circle cx="133.47" cy="476.82" r="2.05"/><circle cx="135.66" cy="476.95" r="2.05"/><circle cx="137.86" cy="477.07" r="2.05"/><circle cx="140.05" cy="477.21" r="2.05"/><circle cx="142.24" cy="477.61" r="2.05"/><circle cx="144.44" cy="478.02" r="2.05"/><circle cx="146.63" cy="478.42" r="2.05"/><circle cx="148.83" cy="478.83" r="2.05"/><circle cx="151.02" cy="479.23" r="2.05"/><circle cx="153.21" cy="479.63" r="2.05"/><circle cx="155.41" cy="480.03" r="2.05"/><circle cx="157.60" cy="480.38" r="2.05"/><circle cx="159.80" cy="480.73" r="2.05"/><circle cx="161.99" cy="481.08" r="2.05"/><circle cx="164.18" cy="481.42" r="2.05"/><circle cx="166.38" cy="481.77" r="2.05"/><circle cx="168.57" cy="482.12" r="2.05"/><circle cx="170.76" cy="482.47" r="2.05"/><circle cx="172.96" cy="482.81" r="2.05"/><circle cx="175.15" cy="483.16" r="2.05"/><circle cx="177.35" cy="483.65" r="2.05"/><circle cx="179.54" cy="484.16" r="2.05"/><circle cx="181.73" cy="484.67" r="2.05"/><circle cx="183.93" cy="485.17" r="2.05"/><circle cx="186.12" cy="485.68" r="2.05"/><circle cx="188.32" cy="486.04" r="2.05"/><circle cx="190.51" cy="486.17" r="2.05"/><circle cx="192.70" cy="486.29" r="2.05"/><circle cx="194.90" cy="486.41" r="2.05"/><circle cx="197.09" cy="486.53" r="2.05"/><circle cx="199.29" cy="486.65" r="2.05"/><circle cx="201.48" cy="486.77" r="2.05"/><circle cx="203.67" cy="486.89" r="2.05"/><circle cx="205.87" cy="487.07" r="2.05"/><circle cx="208.06" cy="487.98" r="2.05"/><circle cx="210.25" cy="488.90" r="2.05"/><circle cx="212.45" cy="489.75" r="2.05"/><circle cx="214.64" cy="490.46" r="2.05"/><circle cx="216.84" cy="491.18" r="2.05"/><circle cx="219.03" cy="492.11" r="2.05"/><circle cx="221.22" cy="493.18" r="2.05"/><circle cx="223.42" cy="494.26" r="2.05"/><circle cx="225.61" cy="497.76" r="2.05"/><circle cx="227.81" cy="498.95" r="2.05"/><circle cx="230.00" cy="500.00" r="2.05"/></g>
 <text x="129.6" y="522.3" text-anchor="middle" style="font-size:9.2px;fill:#222;stroke:#222;stroke-width:0.18px" textLength="131.8" lengthAdjust="spacingAndGlyphs">Electron transport chain [WP111] n = 86</text>
</g>

<!-- ============ PANEL H ============ -->
<text class="pl" x="251.5" y="387.5">H</text>
<g id="panelH">
 <text x="326.2" y="402.5" text-anchor="middle" style="font-size:9.4px;fill:#1a1a1a;stroke:#1a1a1a;stroke-width:0.18px" textLength="98.4" lengthAdjust="spacingAndGlyphs">Treatment: All (n = 734)</text>
 <path class="ax" d="M281.5,407.7 V507.2 H371 M278.5,410.2 H281.5 M278.5,503.4 H281.5 M285.2,507.2 V510 M305.5,507.2 V510 M326.2,507.2 V510 M347,507.2 V510 M367,507.2 V510"/>
 <g style="font-size:7px;fill:#222;stroke:#222;stroke-width:0.1px" text-anchor="end"><text x="277.5" y="412.7">1.0</text><text x="277.5" y="505.9">0.0</text></g>
 <g style="font-size:7px;fill:#222;stroke:#222;stroke-width:0.1px" text-anchor="middle">
  <text x="285.2" y="520.5">0</text><text x="305.5" y="520.5">50</text><text x="326.2" y="520.5">100</text><text x="347" y="520.5">150</text><text x="367" y="520.5">200</text>
 </g>
 <text transform="translate(258.7,453.2) rotate(-90)" text-anchor="middle" style="font-size:9px;fill:#222;stroke:#222;stroke-width:0.18px" textLength="34" lengthAdjust="spacingAndGlyphs">Probability</text>
 <g style="font-size:6.9px;fill:#222;stroke:#222;stroke-width:0.1px" text-anchor="end">
  <text x="376.5" y="418.5">HR = 0.75 (0.61 − 0.93)</text>
  <text x="374.5" y="426.5">logrank <tspan font-style="italic">P</tspan> = .0071</text>
 </g>
 <polyline points="284.8,410.5 285.6,416.0 286.5,423.0 287.5,431.0 288.7,437.7 290.0,445.0 291.5,450.2 294.4,455.0 297.0,458.5 299.2,460.8 303.0,461.7 308.8,462.1 314.6,463.7 320.4,465.0 326.2,466.9 374.2,466.9" fill="none" stroke="#eda64a" stroke-width="1.5" stroke-linejoin="round"/><polyline points="284.8,410.5 285.6,416.0 286.5,423.0 287.5,431.0 288.7,437.7 289.6,446.0 290.6,453.0 292.5,459.8 295.4,464.6 299.2,468.5 305.0,471.3 310.8,473.7 318.5,474.8 328.0,476.2 337.7,476.7 343.5,477.7 346.3,478.5 378.0,478.5" fill="none" stroke="#1f4e79" stroke-width="1.5" stroke-linejoin="round"/>
 <text x="287.7" y="488" style="font-size:6.9px;fill:#222;stroke:#222;stroke-width:0.1px">Expression</text>
 <path d="M289,493.2 H301" stroke="#2a5f8f" stroke-width="1.2"/><path d="M289,500.3 H301" stroke="#eaa53c" stroke-width="1.2"/>
 <text x="303" y="495.6" style="font-size:6.9px;fill:#222;stroke:#222;stroke-width:0.1px">low</text>
 <text x="303" y="502.7" style="font-size:6.9px;fill:#222;stroke:#222;stroke-width:0.1px">high</text>
 <text x="366.6" y="533" style="font-size:9px;fill:#222;stroke:#222;stroke-width:0.18px" textLength="46.8" lengthAdjust="spacingAndGlyphs">Time (months)</text>
</g>

<!-- ============ PANEL I ============ -->
<text class="pl" x="387" y="387.5">I</text>
<g id="panelI">
 <text x="449.1" y="402.5" text-anchor="middle" style="font-size:9.4px;fill:#1a1a1a;stroke:#1a1a1a;stroke-width:0.18px" textLength="112.2" lengthAdjust="spacingAndGlyphs">Treatment: Chemo (n = 79)</text>
 <path class="ax" d="M399.4,408.5 V506.7 H496.3 M396.4,410.2 H399.4 M396.4,504 H399.4 M402.9,506.7 V509.5 M421.7,506.7 V509.5 M439.8,506.7 V509.5 M458.1,506.7 V509.5 M476.4,506.7 V509.5 M494.4,506.7 V509.5"/>
 <g style="font-size:7px;fill:#222;stroke:#222;stroke-width:0.1px" text-anchor="middle">
  <text x="402.9" y="520.5">0</text><text x="421.7" y="520.5">10</text><text x="439.8" y="520.5">20</text><text x="458.1" y="520.5">30</text><text x="476.4" y="520.5">40</text><text x="494.4" y="520.5">50</text>
 </g>
 <g style="font-size:6.9px;fill:#222;stroke:#222;stroke-width:0.1px" text-anchor="end">
  <text x="496.3" y="418.5">HR = 0.55 (0.31 − 0.97)</text>
  <text x="494.4" y="426.5">logrank <tspan font-style="italic">P</tspan> = .037</text>
 </g>
 <polyline points="402.9,410.0 404.0,410.0 404.0,416.0 405.5,416.0 405.5,422.0 407.0,422.0 407.0,427.3 415.0,427.3 415.0,427.3 417.7,427.3 417.7,432.7 421.7,432.7 421.7,439.4 427.1,439.4 427.1,443.5 435.2,443.5 435.2,448.9 440.6,448.9 440.6,455.6 470.2,455.6 470.2,456.4 471.5,456.4 471.5,460.2 495.8,460.2 495.8,460.2" fill="none" stroke="#eda64a" stroke-width="1.2" stroke-linejoin="round"/><polyline points="402.9,410.0 404.0,410.0 404.0,417.0 405.6,417.0 405.6,424.6 409.6,424.6 409.6,438.0 413.7,438.0 413.7,443.5 417.7,443.5 417.7,447.5 423.1,447.5 423.1,452.9 427.1,452.9 427.1,461.0 431.2,461.0 431.2,463.7 433.8,463.7 433.8,469.0 440.6,469.0 440.6,475.8 452.7,475.8 452.7,478.5 481.0,478.5 481.0,478.5 481.0,478.5 481.0,487.1 491.7,487.1 491.7,487.1" fill="none" stroke="#2a5f8f" stroke-width="1.2" stroke-linejoin="round"/><path d="M409.0,427.9 v-2.2" stroke="#eda64a" stroke-width="0.7"/><path d="M412.0,427.9 v-2.2" stroke="#eda64a" stroke-width="0.7"/><path d="M426.0,440.0 v-2.2" stroke="#eda64a" stroke-width="0.7"/><path d="M431.0,444.1 v-2.2" stroke="#eda64a" stroke-width="0.7"/><path d="M446.0,456.2 v-2.2" stroke="#eda64a" stroke-width="0.7"/><path d="M450.0,456.2 v-2.2" stroke="#eda64a" stroke-width="0.7"/><path d="M455.0,456.2 v-2.2" stroke="#eda64a" stroke-width="0.7"/><path d="M459.0,456.2 v-2.2" stroke="#eda64a" stroke-width="0.7"/><path d="M463.0,456.2 v-2.2" stroke="#eda64a" stroke-width="0.7"/><path d="M467.0,456.2 v-2.2" stroke="#eda64a" stroke-width="0.7"/><path d="M476.0,460.8 v-2.2" stroke="#eda64a" stroke-width="0.7"/><path d="M480.0,460.8 v-2.2" stroke="#eda64a" stroke-width="0.7"/><path d="M484.0,460.8 v-2.2" stroke="#eda64a" stroke-width="0.7"/><path d="M488.0,460.8 v-2.2" stroke="#eda64a" stroke-width="0.7"/><path d="M492.0,460.8 v-2.2" stroke="#eda64a" stroke-width="0.7"/><path d="M407.0,425.2 v-2.2" stroke="#2a5f8f" stroke-width="0.7"/><path d="M415.0,444.1 v-2.2" stroke="#2a5f8f" stroke-width="0.7"/><path d="M420.0,448.1 v-2.2" stroke="#2a5f8f" stroke-width="0.7"/><path d="M425.0,453.5 v-2.2" stroke="#2a5f8f" stroke-width="0.7"/><path d="M437.0,469.6 v-2.2" stroke="#2a5f8f" stroke-width="0.7"/><path d="M445.0,476.4 v-2.2" stroke="#2a5f8f" stroke-width="0.7"/><path d="M449.0,476.4 v-2.2" stroke="#2a5f8f" stroke-width="0.7"/><path d="M457.0,479.1 v-2.2" stroke="#2a5f8f" stroke-width="0.7"/><path d="M462.0,479.1 v-2.2" stroke="#2a5f8f" stroke-width="0.7"/><path d="M466.0,479.1 v-2.2" stroke="#2a5f8f" stroke-width="0.7"/><path d="M470.0,479.1 v-2.2" stroke="#2a5f8f" stroke-width="0.7"/><path d="M474.0,479.1 v-2.2" stroke="#2a5f8f" stroke-width="0.7"/><path d="M478.0,479.1 v-2.2" stroke="#2a5f8f" stroke-width="0.7"/><path d="M485.0,487.7 v-2.2" stroke="#2a5f8f" stroke-width="0.7"/><path d="M488.0,487.7 v-2.2" stroke="#2a5f8f" stroke-width="0.7"/>
 <text x="407" y="487.7" style="font-size:6.9px;fill:#222;stroke:#222;stroke-width:0.1px">Expression</text>
 <path d="M408.5,492.7 H420.5" stroke="#2a5f8f" stroke-width="1.2"/><path d="M408.5,500 H420.5" stroke="#eaa53c" stroke-width="1.2"/>
 <text x="422.5" y="495.1" style="font-size:6.9px;fill:#222;stroke:#222;stroke-width:0.1px">low</text>
 <text x="422.5" y="502.4" style="font-size:6.9px;fill:#222;stroke:#222;stroke-width:0.1px">high</text>
</g>

<!-- ============ PANEL J ============ -->
<text class="pl" x="9" y="563.5">J</text>
<g id="panelJ">
 <rect x="7.3" y="572" width="86.5" height="109.3" rx="5" ry="5" fill="none" stroke="#c4c4c4" stroke-width="0.9"/>
 <g style="font-size:7px;fill:#222;stroke:#222;stroke-width:0.1px" text-anchor="middle">
  <text x="23.2" y="585.5">Adult</text><text x="23.2" y="593">(n = 47)</text>
  <text x="75.3" y="585.5">Pediatric</text><text x="75.3" y="593">(n = 22)</text>
  <text x="49.5" y="622">Diagnosis</text>
  <text x="49.5" y="657.5">Relapse</text>
 </g>
 <use href="#person" x="15.3" y="601.8" width="15.8" height="29.5" fill="#7d8388"/>
 <use href="#person" x="70" y="613" width="11" height="18.3" fill="#7d8388"/>
 <use href="#person" x="15.3" y="642" width="15.8" height="29.5" fill="#7d8388"/>
 <use href="#person" x="70" y="653" width="11" height="18.3" fill="#7d8388"/>
 <path d="M50,633 V639.5" stroke="#111" stroke-width="1.1"/><path d="M48,639 H52 L50,643 Z" fill="#111"/>
 <text x="116.2" y="620.5" text-anchor="middle" style="font-size:7px;fill:#222;stroke:#222;stroke-width:0.1px" textLength="36" lengthAdjust="spacingAndGlyphs">Proteomics</text>
 <text x="115.4" y="640.8" text-anchor="middle" style="font-size:7px;fill:#222;stroke:#222;stroke-width:0.1px"><tspan font-style="italic">P</tspan> &lt; .05</text>
 <path d="M96,632.5 H130.5" stroke="#111" stroke-width="1"/><path d="M130,630.5 L134.5,632.5 L130,634.5 Z" fill="#111"/>
</g>

<!-- ============ PANEL K ============ -->
<text class="pl" x="130.2" y="563.6">K</text>
<g id="panelK">
 <clipPath id="cpK"><circle cx="169" cy="599.6" r="20.8"/></clipPath>
 <circle cx="168.8" cy="636.5" r="32.4" fill="#94b4d4" clip-path="url(#cpK)"/>
 <circle cx="169" cy="599.6" r="20.8" fill="none" stroke="#5a5a5a" stroke-width="0.8"/>
 <circle cx="168.8" cy="636.5" r="32.4" fill="none" stroke="#3a6a98" stroke-width="0.8"/>
 <g style="font-size:7px;fill:#222;stroke:#222;stroke-width:0.1px" text-anchor="middle">
  <text x="168.5" y="575.2">Adult</text>
  <text x="169" y="596.5">157</text>
  <text x="169" y="616.3">80</text>
  <text x="168.5" y="640.5">513</text>
  <text x="168.5" y="680.5">Pediatric</text>
 </g>
 <path d="M187.3,609.3 H218" stroke="#111" stroke-width="1"/><path d="M217.5,607.3 L222,609.3 L217.5,611.3 Z" fill="#111"/>
</g>

<!-- ============ PANEL L ============ -->
<text class="pl" x="222.5" y="563.6">L</text>
<g id="panelL">
 <circle cx="262" cy="627.7" r="41.3" fill="#da667f" stroke="#6e6470" stroke-width="0.7"/>
 <path d="M262,627.7 V586.4 A41.3,41.3 0 0 1 303.3,627.7 Z" fill="#c9cbd0" stroke="#6a6a72" stroke-width="0.7"/>
 <path d="M262,586.9 V627.7 H303" fill="none" stroke="#fbeef0" stroke-width="1.6"/>
 <g style="font-size:7.5px;fill:#2a2a2a;stroke:#2a2a2a;stroke-width:0.3px" text-anchor="middle">
  <text x="279.2" y="614.2">25%</text><text x="243.5" y="641.5">75%</text>
 </g>
 <text x="291.2" y="584.7" text-anchor="middle" style="font-size:7px;fill:#777;stroke:#777;stroke-width:0.1px">Other</text>
 <path d="M288.5,587.5 L285,594.2" stroke="#777" stroke-width="0.6"/>
 <text x="256.2" y="680.5" text-anchor="middle" style="font-size:7px;fill:#d04a66;stroke:#d04a66;stroke-width:0.1px" textLength="41.6" lengthAdjust="spacingAndGlyphs">MitoCarta3.0</text>
 <path d="M241.2,664.6 L238.8,672.7" stroke="#d04a66" stroke-width="0.6"/>
</g>

<!-- ============ PANEL M ============ -->
<text class="pl" x="327.3" y="563.7">M</text>
<g id="panelM">
 <text x="486.2" y="571.2" text-anchor="middle" style="font-size:7px;fill:#222;stroke:#222;stroke-width:0.1px">NES (<tspan font-style="italic">P</tspan> &lt; .05)</text>
 <g style="font-size:7px;fill:#222;stroke:#222;stroke-width:0.1px" text-anchor="end">
  <text x="463.4" y="585.3">Mitochondrial translation</text>
  <text x="463.4" y="593.4">Translation</text>
  <text x="463.4" y="602.1">Mitochondrial inner membrane</text>
  <text x="463.4" y="609.8">Mitochondrial matrix</text>
  <text x="463.4" y="618.5">Mitochondrion</text>
  <text x="463.4" y="626.6">Plasma membrane</text>
  <text x="463.4" y="635.3">Structural constituent of ribosome</text>
  <text x="463.4" y="643.2">Metabolism of proteins</text>
  <text x="463.4" y="651.3">TCA and respiratory electron transport</text>
  <text x="463.4" y="660">Cytosol</text>
 </g>
 <circle cx="477.5" cy="583.2" r="2.5" fill="#d9677e"/><circle cx="501.7" cy="583.2" r="3.9" fill="#d9677e"/><circle cx="477.5" cy="592.4" r="1.2" fill="#d9677e"/><circle cx="501.7" cy="592.4" r="1.5" fill="#d9677e"/><circle cx="477.5" cy="601.1" r="2.7" fill="#d9677e"/><circle cx="501.7" cy="601.1" r="3.5" fill="#d9677e"/><circle cx="477.5" cy="611.2" r="1.2" fill="#d9677e"/><circle cx="501.7" cy="611.2" r="2.9" fill="#d9677e"/><circle cx="477.5" cy="620.2" r="2.9" fill="#d9677e"/><circle cx="501.7" cy="620.2" r="3.9" fill="#d9677e"/><circle cx="477.5" cy="629.5" r="1.0" fill="#5a88b8"/><circle cx="501.7" cy="629.5" r="3.9" fill="#5a88b8"/><circle cx="477.5" cy="638.2" r="2.1" fill="#d9677e"/><circle cx="501.7" cy="638.2" r="3.1" fill="#d9677e"/><circle cx="477.5" cy="647.8" r="2.1" fill="#d9677e"/><circle cx="501.7" cy="647.8" r="3.1" fill="#d9677e"/><circle cx="477.5" cy="657.5" r="1.4" fill="#d9677e"/><circle cx="501.7" cy="657.5" r="1.5" fill="#d9677e"/><circle cx="477.5" cy="666.2" r="2.1" fill="#5a88b8"/><circle cx="501.7" cy="666.2" r="3.7" fill="#5a88b8"/>
 <text x="328.8" y="673.7" style="font-size:7px"><tspan fill="#d04a66" stroke="#d04a66" stroke-width="0.12">Positive</tspan><tspan fill="#444" stroke="#444" stroke-width="0.12">/</tspan><tspan fill="#4f7fb0" stroke="#4f7fb0" stroke-width="0.12">negative</tspan></text>
 <text x="328.8" y="680.5" style="font-size:7px;fill:#222;stroke:#222;stroke-width:0.1px">Enrichment score</text>
 <g fill="none" stroke="#777" stroke-width="0.6">
  <circle cx="388.1" cy="673.5" r="1.5"/><circle cx="400.8" cy="673.5" r="3.3"/><circle cx="417.4" cy="673.5" r="5"/>
 </g>
 <g style="font-size:7px;fill:#222;stroke:#222;stroke-width:0.1px" text-anchor="middle">
  <text x="388.1" y="685.2">2</text><text x="400.8" y="685.2">4</text><text x="417.4" y="685.2">6</text>
 </g>
 <text x="477.9" y="684.5" text-anchor="middle" style="font-size:7px;fill:#222;stroke:#222;stroke-width:0.1px">Adult</text>
 <text x="501.4" y="684.5" text-anchor="middle" style="font-size:7px;fill:#222;stroke:#222;stroke-width:0.1px">Pediat.</text>
</g>

</svg>
</body></html>
